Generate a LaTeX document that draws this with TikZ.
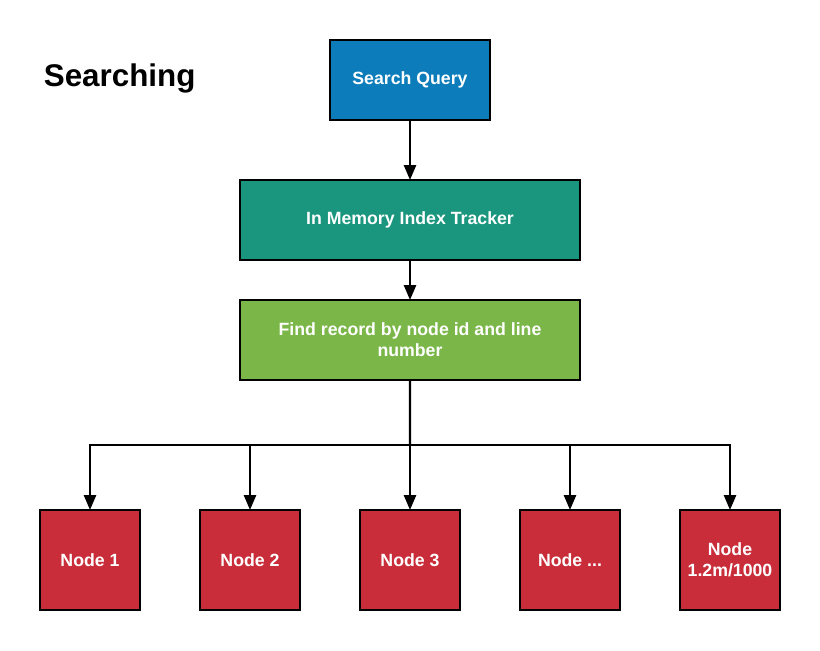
\documentclass[tikz,border=0pt]{standalone}
\usepackage{fontspec}
\setmainfont{Liberation Sans}
\usetikzlibrary{arrows.meta,positioning,calc}
\definecolor{qblue}{HTML}{0C7CBA}
\definecolor{teal}{HTML}{19967D}
\definecolor{green}{HTML}{7AB648}
\definecolor{red}{HTML}{C92D39}

\begin{document}
\begin{tikzpicture}[>={Triangle[length=10.5pt,width=8.5pt]},every node/.style={font=\fontsize{12.6}{15}\selectfont\bfseries,align=center,text=white,line width=1.4pt,outer sep=0pt}]
  \useasboundingbox (0,0) rectangle (20.5,-16.25);
  \node[text=black,anchor=west,font=\fontsize{22.3}{26}\selectfont\bfseries] (title) at (0.98,-1.95) {Searching};
  \node[draw,fill=qblue,minimum width=4cm,minimum height=2cm] (query) at (10.25,-2.0) {Search Query};
  \node[draw,fill=teal,minimum width=8.5cm,minimum height=2cm,below=1.5cm of query] (tracker) {In Memory Index Tracker};
  \node[draw,fill=green,minimum width=8.5cm,minimum height=2cm,below=1.0cm of tracker] (find) {Find record by node id and line\\number};
  \node[draw,fill=red,minimum width=2.5cm,minimum height=2.5cm,below=3.25cm of find] (n3) {Node 3};
  \node[draw,fill=red,minimum width=2.5cm,minimum height=2.5cm,left=1.5cm of n3] (n2) {Node 2};
  \node[draw,fill=red,minimum width=2.5cm,minimum height=2.5cm,left=1.5cm of n2] (n1) {Node 1};
  \node[draw,fill=red,minimum width=2.5cm,minimum height=2.5cm,right=1.5cm of n3] (n4) {Node ...};
  \node[draw,fill=red,minimum width=2.5cm,minimum height=2.5cm,right=1.5cm of n4] (n5) {Node\\1.2m/1000};
  \coordinate (bus) at ($(find.south)!0.5!(n3.north)$);
  \draw[->,line width=1.6pt] (query) -- (tracker);
  \draw[->,line width=1.6pt] (tracker) -- (find);
  \draw[line width=1.6pt] (find.south) -- (bus);
  \foreach \n in {n1,n2,n3,n4,n5}
    \draw[->,line width=1.6pt] (bus) -| (\n);
\end{tikzpicture}
\end{document}
